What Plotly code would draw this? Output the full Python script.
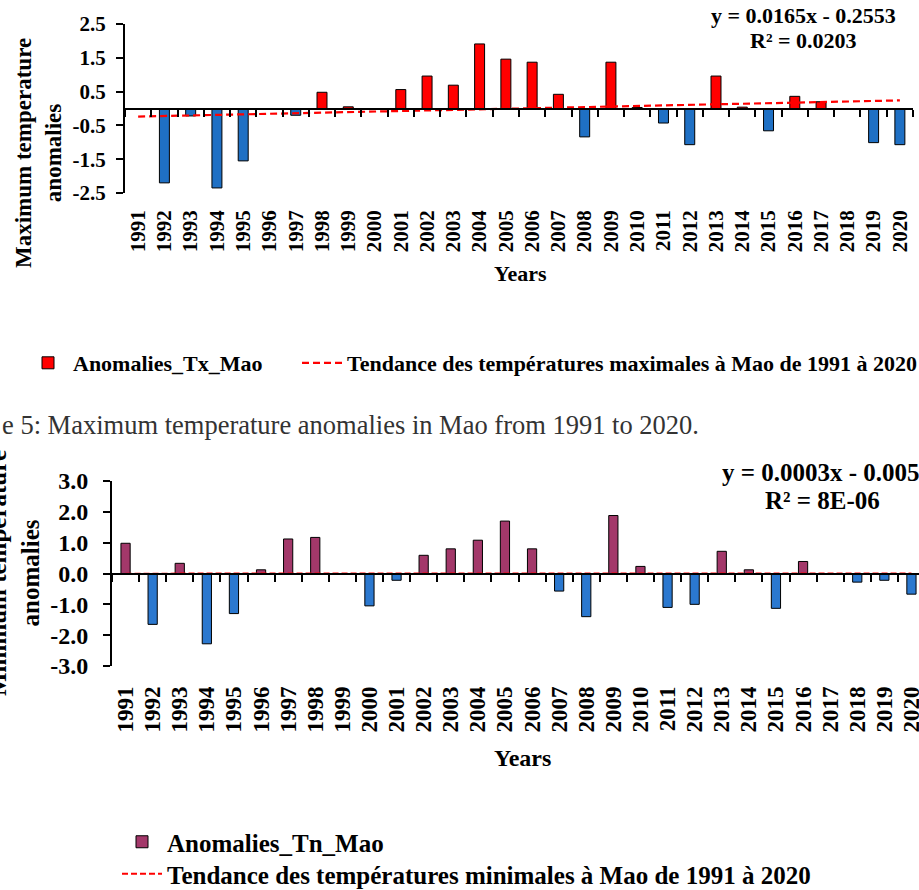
import plotly.graph_objects as go

# ---------------- data ----------------
years = ["1991", "1992", "1993", "1994", "1995", "1996", "1997", "1998", "1999", "2000",
         "2001", "2002", "2003", "2004", "2005", "2006", "2007", "2008", "2009", "2010",
         "2011", "2012", "2013", "2014", "2015", "2016", "2017", "2018", "2019", "2020"]

tx_anom = [0.0, -2.2, -0.22, -2.35, -1.55, 0.0, -0.2, 0.48, 0.05, -0.03,
           0.56, 0.96, 0.69, 1.91, 1.46, 1.37, 0.42, -0.84, 1.37, 0.03,
           -0.43, -1.07, 0.96, 0.04, -0.66, 0.36, 0.2, 0.0, -1.01, -1.07]

tn_anom = [0.98, -1.65, 0.33, -2.28, -1.3, 0.12, 1.12, 1.17, 0.0, -1.05,
           -0.22, 0.59, 0.8, 1.08, 1.7, 0.8, -0.57, -1.4, 1.88, 0.23,
           -1.1, -1.0, 0.72, 0.12, -1.13, 0.39, 0.0, -0.28, -0.22, -0.67]

tx_trend_slope = 0.0165
tx_trend_intercept = -0.2553
tn_trend_slope = 0.0003
tn_trend_intercept = -0.005

tx_eq_lines = ["y = 0.0165x - 0.2553", "R² = 0.0203"]
tn_eq_lines = ["y = 0.0003x - 0.005", "R² = 8E-06"]

tx_yticks = [-2.5, -1.5, -0.5, 0.5, 1.5, 2.5]
tx_yticktext = ["-2.5", "-1.5", "-0.5", "0.5", "1.5", "2.5"]
tn_yticks = [-3.0, -2.0, -1.0, 0.0, 1.0, 2.0, 3.0]
tn_yticktext = ["-3.0", "-2.0", "-1.0", "0.0", "1.0", "2.0", "3.0"]

tx_bar_name = "Anomalies_Tx_Mao"
tx_trend_name = "Tendance des températures maximales à Mao de 1991 à 2020"
tn_bar_name = "Anomalies_Tn_Mao"
tn_trend_name = "Tendance des températures minimales à Mao de 1991 à 2020"
caption = "e 5: Maximum temperature anomalies in Mao from 1991 to 2020."

# ---------------- layout helpers ----------------
W, H = 919, 890


def px(x):
    return x / W


def py(y):
    return 1 - y / H


FONT = "Liberation Serif, Times New Roman, serif"
RED = "#FF0000"
BLUE = "#1F70C4"
BLUE2 = "#2B78CF"
PURPLE = "#A3386A"
BOLD = dict(family=FONT, color="black", weight="bold")

n = len(years)
idx = list(range(n))
tx_trend = [tx_trend_slope * (i + 1) + tx_trend_intercept for i in idx]
tn_trend = [tn_trend_slope * (i + 1) + tn_trend_intercept for i in idx]

tx_pos = [v if v >= 0 else None for v in tx_anom]
tx_neg = [v if v < 0 else None for v in tx_anom]
tn_pos = [v if v >= 0 else None for v in tn_anom]
tn_neg = [v if v < 0 else None for v in tn_anom]

# chart geometry (pixels)
c1_left, c1_right, c1_top, c1_bot = 125, 913, 24, 193
c2_left, c2_top, c2_bot = 112, 481, 666
c2_catw = 27.1
c1_yr = [-2.5, 2.5]
c2_yr = [-3.0, 3.0]
c1_xr = [-0.5, n - 0.5]
c2_xr = [-0.5, -0.5 + (W - c2_left) / c2_catw]

dom1 = [py(c1_bot), py(c1_top)]
dom2 = [py(c2_bot), py(c2_top)]
zero1 = dom1[0] + (0 - c1_yr[0]) / (c1_yr[1] - c1_yr[0]) * (dom1[1] - dom1[0])
zero2 = dom2[0] + (0 - c2_yr[0]) / (c2_yr[1] - c2_yr[0]) * (dom2[1] - dom2[0])

fig = go.Figure()

# ---- chart 1 (Tx) ----
fig.add_trace(go.Bar(x=years, y=tx_pos, width=0.38, name=tx_bar_name,
                     marker=dict(color=RED, line=dict(color="black", width=1)),
                     xaxis="x", yaxis="y", legend="legend"))
fig.add_trace(go.Bar(x=years, y=tx_neg, width=0.38, showlegend=False,
                     marker=dict(color=BLUE, line=dict(color="black", width=1)),
                     xaxis="x", yaxis="y"))
fig.add_trace(go.Scatter(x=idx, y=tx_trend, mode="lines", name=tx_trend_name,
                         line=dict(color=RED, width=2.2, dash="7px,4px"),
                         xaxis="x3", yaxis="y", legend="legend2"))

# ---- chart 2 (Tn) ----
fig.add_trace(go.Bar(x=years, y=tn_pos, width=0.34, name=tn_bar_name,
                     marker=dict(color=PURPLE, line=dict(color="black", width=1)),
                     xaxis="x2", yaxis="y2", legend="legend3"))
fig.add_trace(go.Bar(x=years, y=tn_neg, width=0.34, showlegend=False,
                     marker=dict(color=BLUE2, line=dict(color="black", width=1)),
                     xaxis="x2", yaxis="y2"))
fig.add_trace(go.Scatter(x=idx, y=tn_trend, mode="lines", name=tn_trend_name,
                         line=dict(color=RED, width=2, dash="6px,3px"),
                         xaxis="x4", yaxis="y2", legend="legend4"))


def cat_axis(size):
    return dict(type="category", categoryorder="array", categoryarray=years,
                tickmode="array", tickvals=years, ticktext=years,
                tickangle=-90, showline=False, ticks="", showgrid=False, zeroline=False,
                tickfont=dict(size=size, **BOLD))


def val_axis(size):
    return dict(showline=True, linecolor="black", linewidth=2, ticks="outside", ticklen=7,
                tickwidth=2, tickcolor="black", showgrid=False, zeroline=False,
                tickfont=dict(size=size, **BOLD))


zero_axis = dict(anchor="free", showline=True, linecolor="black", linewidth=2,
                 ticks="outside", ticklen=7, tickwidth=1.5, tickcolor="black",
                 tick0=-0.5, dtick=1, showticklabels=False, showgrid=False, zeroline=False)


def leg(x_text, y_center, size):
    # legend text starts about 50 px right of the legend's x position
    return dict(orientation="h", x=px(x_text - 50), xanchor="left", y=py(y_center),
                yanchor="middle", font=dict(size=size, **BOLD), bgcolor="rgba(0,0,0,0)",
                itemwidth=40)


fig.update_layout(
    width=W, height=H, autosize=False,
    margin=dict(l=0, r=0, t=0, b=0, pad=0, autoexpand=False),
    paper_bgcolor="white", plot_bgcolor="rgba(0,0,0,0)",
    barmode="overlay",
    font=dict(family=FONT, color="black"),
    xaxis=dict(domain=[px(c1_left), px(c1_right)], anchor="y", range=c1_xr,
               ticklabelstandoff=12, **cat_axis(21)),
    yaxis=dict(domain=dom1, anchor="x", range=c1_yr, tickvals=tx_yticks,
               ticktext=tx_yticktext, ticklabelstandoff=6, **val_axis(21)),
    xaxis3=dict(overlaying="x", position=zero1, range=c1_xr, **zero_axis),
    xaxis2=dict(domain=[px(c2_left), 1.0], anchor="y2", range=c2_xr,
                ticklabelstandoff=15, **cat_axis(23)),
    yaxis2=dict(domain=dom2, anchor="x2", range=c2_yr, tickvals=tn_yticks,
                ticktext=tn_yticktext, ticklabelstandoff=10, **val_axis(24)),
    xaxis4=dict(overlaying="x2", position=zero2, range=c2_xr, **zero_axis),
    legend=leg(73, 363, 22),
    legend2=leg(347, 363, 22),
    legend3=leg(167, 842, 25),
    legend4=leg(167, 874, 25),
)

ann = []


def add_text(text, x, y, size, xanchor="center", angle=0, bold=True, color="black"):
    f = dict(family=FONT, size=size, color=color)
    if bold:
        f["weight"] = "bold"
    ann.append(dict(text=text, x=px(x), y=py(y), xref="paper", yref="paper",
                    showarrow=False, xanchor=xanchor, yanchor="middle",
                    textangle=angle, font=f))


add_text("Maximum temperature<br>anomalies", 38, 153, 23, angle=-90)
add_text("Minimum temperature<br>anomalies", 14, 573, 25, angle=-90)
add_text("Years", 520, 273, 22)
add_text("Years", 522, 758, 24)
add_text(tx_eq_lines[0], 803, 15, 22)
add_text(tx_eq_lines[1], 803, 40, 22)
add_text(tn_eq_lines[0], 720, 472, 25, xanchor="left")
add_text(tn_eq_lines[1], 822, 500, 25)
add_text(caption, 0, 425, 26.5, xanchor="left", bold=False, color="#333333")

fig.update_layout(annotations=ann)

fig.write_html(
    "out.html",
    config={"displayModeBar": False},
    post_script="document.body.style.margin='0';document.body.style.overflow='hidden';",
)
